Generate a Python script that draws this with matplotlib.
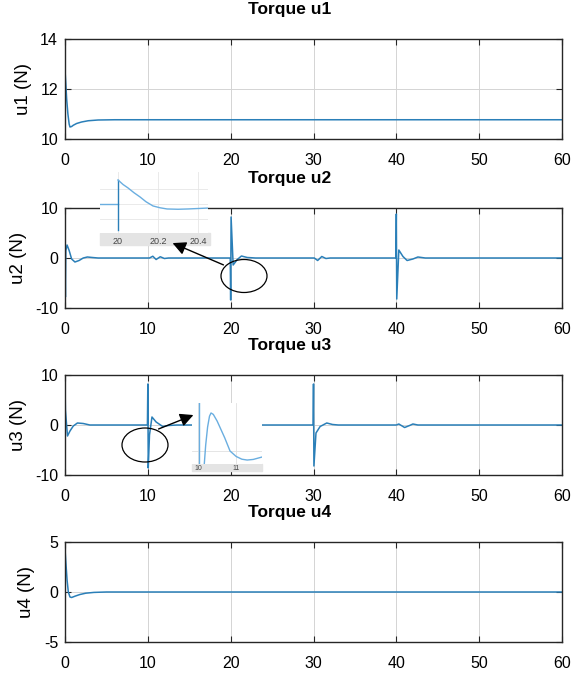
import matplotlib
matplotlib.use('Agg')
import matplotlib.pyplot as plt
from matplotlib.patches import Ellipse, Rectangle

plt.rcParams['font.family'] = ['Liberation Sans', 'DejaVu Sans']
plt.rcParams['axes.unicode_minus'] = False

# Signals (time in s, torque in N)
u1_t = [0, 0.1, 0.2, 0.35, 0.5, 0.6, 0.8, 1.0, 1.4, 2.0, 2.8, 4.0, 6.0, 60]
u1_v = [12.76, 12.2, 11.6, 11.0, 10.6, 10.48, 10.5, 10.55, 10.62, 10.68, 10.73, 10.76, 10.77, 10.77]

u2_t = [0, 0.05, 0.1, 0.25, 0.5, 0.8, 1.2, 1.7, 2.2, 2.7, 3.3, 4.0,
        10.2, 10.6, 11.0, 11.5, 12.0, 12.5,
        19.95, 20.0, 20.05, 20.3, 20.8, 21.3, 22.0, 23.0,
        30.1, 30.5, 31.0, 31.5, 32.0,
        39.95, 40.0, 40.05, 40.3, 40.8, 41.3, 42.0, 42.6, 43.5, 60]
u2_v = [0, -7.8, 1.5, 2.6, 1.5, -0.2, -0.8, -0.5, 0.0, 0.2, 0.1, 0,
        0, 0.35, -0.3, 0.25, -0.1, 0,
        0, -8.4, 8.2, -1.4, -0.3, 0.4, 0.1, 0,
        0, -0.5, 0.3, -0.1, 0,
        0, 8.8, -8.2, 1.6, 0.3, -0.5, -0.2, 0.2, 0, 0]

u3_t = [0, 0.05, 0.3, 0.6, 1.0, 1.5, 2.2, 3.0,
        9.95, 10.0, 10.05, 10.2, 10.5, 11.0, 11.8, 12.5, 13.5,
        29.95, 30.0, 30.05, 30.3, 30.8, 31.6, 32.3, 33.0,
        40.0, 40.3, 41.0, 41.6, 42.0, 42.6, 60]
u3_v = [8.0, 3.0, -2.2, -1.2, -0.2, 0.4, 0.3, 0,
        0, 8.2, -8.6, -2.0, 1.6, 0.6, -0.3, -0.1, 0,
        0, 8.2, -8.2, -1.6, -0.3, 0.4, 0.1, 0,
        0, 0.2, -0.5, -0.1, 0.2, 0, 0]

u4_t = [0, 0.1, 0.25, 0.4, 0.6, 0.8, 1.2, 1.8, 2.5, 3.5, 5.0, 60]
u4_v = [4.3, 3.0, 1.2, 0.0, -0.5, -0.55, -0.42, -0.25, -0.12, -0.04, 0, 0]

series = [(u1_t, u1_v), (u2_t, u2_v), (u3_t, u3_v), (u4_t, u4_v)]
titles = ['Torque u1', 'Torque u2', 'Torque u3', 'Torque u4']
ylabels = ['u1 (N)', 'u2 (N)', 'u3 (N)', 'u4 (N)']
ylims = [(10, 14), (-10, 10), (-10, 10), (-5, 5)]
yticks = [[10, 12, 14], [-10, 0, 10], [-10, 0, 10], [-5, 0, 5]]
xticks = [0, 10, 20, 30, 40, 50, 60]

# zoom insets
z2_pre_t = [19.91, 20.0]
z2_pre_v = [0, 0]
z2_jump_t = [20.0, 20.0]
z2_jump_v = [-1.73, 1.6]
z2_t = [20.0, 20.025, 20.05, 20.08, 20.11, 20.14, 20.175, 20.21, 20.245, 20.3, 20.35, 20.4, 20.45]
z2_v = [1.6, 1.3, 1.07, 0.75, 0.47, 0.15, -0.13, -0.25, -0.33, -0.35, -0.33, -0.3, -0.27]
z2_ticks = [20, 20.2, 20.4]
z2_ticklabels = ['20', '20.2', '20.4']

z3_jump_t = [10.03, 10.03]
z3_jump_v = [-1.2, 4.2]
z3_t = [10.16, 10.2, 10.25, 10.3, 10.34, 10.4, 10.5, 10.6, 10.7, 10.84, 11.0, 11.15, 11.29, 11.45, 11.68]
z3_v = [-1.2, 0.5, 2.0, 2.9, 3.17, 3.05, 2.5, 1.8, 1.1, 0.0, -0.45, -0.68, -0.75, -0.7, -0.5]
z3_ticks = [10, 11]
z3_ticklabels = ['10', '11']

W, H = 580, 675
line_c = '#2a7fb8'


def fx(x):
    return x / W


def fy(y):
    return 1 - y / H


fig = plt.figure(figsize=(W / 100, H / 100), dpi=100)
tops = [39, 208, 375, 542]
axes = []
for i, (t, v) in enumerate(series):
    ax = fig.add_axes([fx(65), fy(tops[i] + 100), fx(497), 100 / H])
    ax.plot(t, v, color=line_c, lw=1.1)
    ax.set_xlim(0, 60)
    ax.set_ylim(*ylims[i])
    ax.set_xticks(xticks)
    ax.set_yticks(yticks[i])
    ax.grid(True, color='#d4d4d4', lw=0.7)
    ax.tick_params(direction='in', top=True, right=True, length=4,
                   labelsize=11.5, pad=10, color='#262626')
    ax.tick_params(axis='y', pad=5)
    for s in ax.spines.values():
        s.set_color('#262626')
        s.set_linewidth(1.0)
    # the original titles sit a bit left of the axes centre
    ax.set_title(titles[i], fontsize=12.5, fontweight='bold', pad=18, x=(290 - 65) / 497)
    ax.set_ylabel(ylabels[i], fontsize=13.5, labelpad=6)
    axes.append(ax)

# inset for u2 around t = 20
ia = fig.add_axes([fx(100), fy(233), fx(108), 61 / H], zorder=5)
ia.set_facecolor('white')
ia.plot(z2_pre_t, z2_pre_v, color='#6aaee0', lw=1.0)
ia.plot(z2_jump_t, z2_jump_v, color=line_c, lw=1.0)
ia.plot(z2_t, z2_v, color='#6aaee0', lw=1.0)
ia.set_xlim(19.91, 20.45)
ia.set_ylim(-1.93, 2.13)
ia.set_xticks(z2_ticks)
ia.set_xticklabels(z2_ticklabels)
ia.set_yticks([-1, 0, 1])
ia.set_yticklabels([])
ia.grid(True, color='#e6e6e6', lw=0.6)
ia.tick_params(length=0, labelsize=6.5, pad=3, labelcolor='#444444')
for s in ia.spines.values():
    s.set_visible(False)
fig.patches.append(Rectangle((fx(100), fy(245)), fx(110), 12 / H,
                             transform=fig.transFigure, color='#e4e4e4', zorder=4))

# inset for u3 around t = 10
ib = fig.add_axes([fx(192), fy(464), fx(70), 61 / H], zorder=5)
ib.set_facecolor('white')
ib.plot(z3_jump_t, z3_jump_v, color='#6aaee0', lw=1.0)
ib.plot(z3_t, z3_v, color='#6aaee0', lw=1.0)
ib.set_xlim(9.84, 11.68)
ib.set_ylim(-1.08, 4.0)
ib.set_xticks(z3_ticks)
ib.set_xticklabels(z3_ticklabels)
ib.set_yticks([0])
ib.set_yticklabels([])
ib.grid(True, color='#e0e0e0', lw=0.6)
ib.tick_params(length=0, labelsize=5, pad=1, labelcolor='#444444')
for s in ib.spines.values():
    s.set_visible(False)
fig.patches.append(Rectangle((fx(192), fy(471)), fx(70), 7 / H,
                             transform=fig.transFigure, color='#e4e4e4', zorder=4))

# circles and arrows pointing at the insets
for cx, cy, w, h in [(244, 276, 46, 33), (145, 445, 46, 34)]:
    fig.patches.append(Ellipse((fx(cx), fy(cy)), fx(w), h / H, transform=fig.transFigure,
                               fill=False, ec='black', lw=0.9, zorder=6))

arrow = dict(arrowstyle='-|>', mutation_scale=20, color='black', lw=1.0)
fig.add_artist(plt.Annotation('', xy=(fx(170), fy(242)), xytext=(fx(226), fy(266)),
                              xycoords='figure fraction', textcoords='figure fraction',
                              arrowprops=arrow, zorder=7))
fig.add_artist(plt.Annotation('', xy=(fx(196), fy(414)), xytext=(fx(156), fy(430)),
                              xycoords='figure fraction', textcoords='figure fraction',
                              arrowprops=arrow, zorder=7))

fig.savefig('out.png', dpi=100)
